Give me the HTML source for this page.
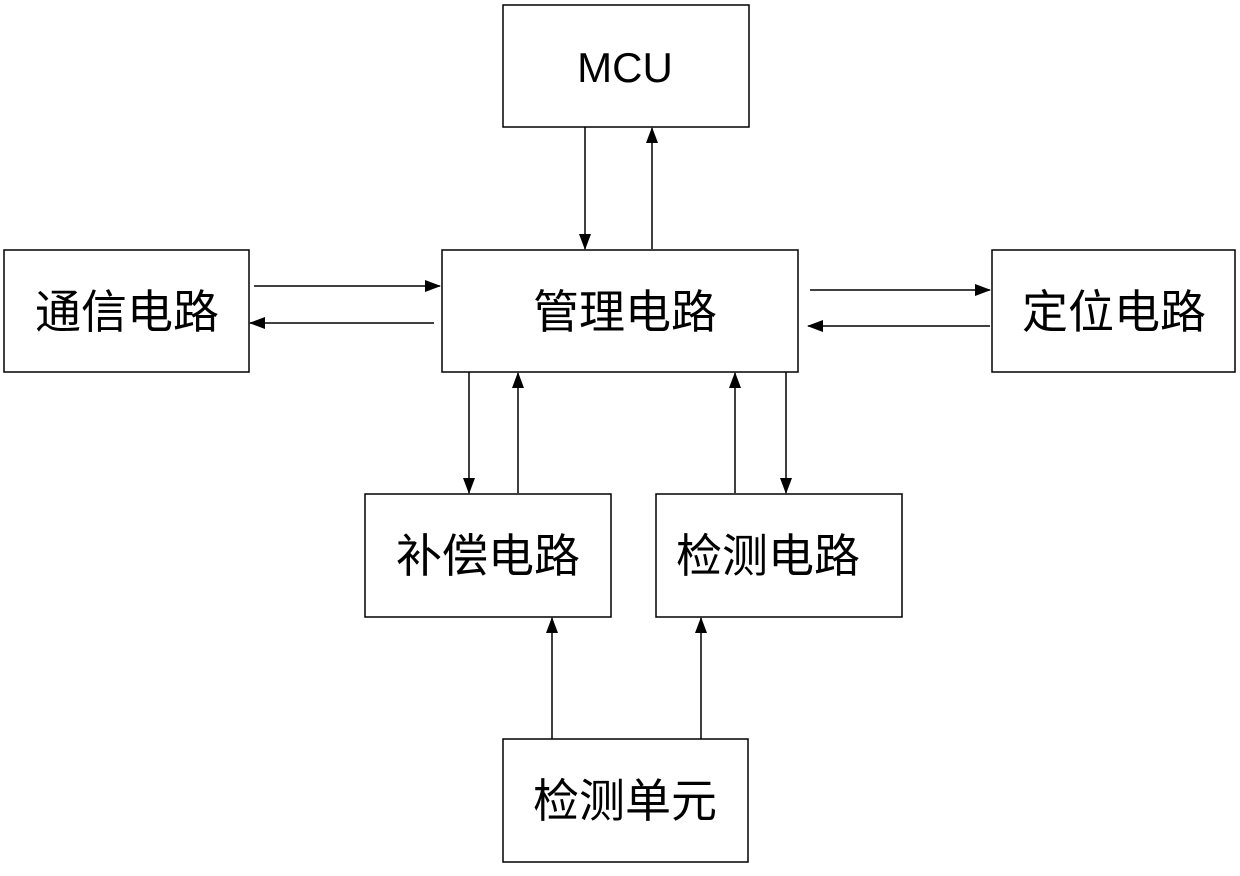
<!DOCTYPE html>
<html><head><meta charset="utf-8"><style>
body{margin:0;background:#fff;width:1240px;height:871px;overflow:hidden}
</style></head><body>
<svg width="1240" height="871" xmlns="http://www.w3.org/2000/svg">
<defs><marker id="a" markerWidth="10" markerHeight="10" refX="9" refY="5" orient="auto" markerUnits="userSpaceOnUse" viewBox="0 0 10 10"><path d="M0,0 L10,5 L0,10 z" fill="#000"/></marker>
<marker id="b" markerWidth="16" markerHeight="12" refX="15" refY="6" orient="auto" markerUnits="userSpaceOnUse" viewBox="0 0 16 12"><path d="M0,0 L16,6 L0,12 z" fill="#000"/></marker></defs>
<g fill="#fff" stroke="#000" stroke-width="1.5">
<rect x="503" y="5" width="246" height="122"/>
<rect x="4" y="250" width="245" height="122"/>
<rect x="442" y="250" width="356" height="122"/>
<rect x="992" y="250" width="243" height="122"/>
<rect x="365" y="494" width="246" height="123"/>
<rect x="656" y="494" width="246" height="123"/>
<rect x="503" y="739" width="245" height="123"/>
</g>
<g stroke="#000" stroke-width="1.5" fill="none" marker-end="url(#b)">
<line x1="585" y1="127" x2="585" y2="249"/>
<line x1="652" y1="249" x2="652" y2="128"/>
<line x1="254" y1="286" x2="440" y2="286"/>
<line x1="434" y1="323" x2="250" y2="323"/>
<line x1="810" y1="290" x2="990" y2="290"/>
<line x1="990" y1="326" x2="808" y2="326"/>
<line x1="469" y1="372" x2="469" y2="493"/>
<line x1="518" y1="493" x2="518" y2="373"/>
<line x1="735" y1="493" x2="735" y2="373"/>
<line x1="786" y1="372" x2="786" y2="493"/>
<line x1="552" y1="739" x2="552" y2="618"/>
<line x1="701" y1="739" x2="701" y2="618"/>
</g>
<g font-family="Liberation Sans, Noto Sans CJK SC, sans-serif" font-size="46" text-anchor="middle" fill="#000">
<text x="625" y="82" font-size="42">MCU</text>
<text x="127" y="328">通信电路</text>
<text x="625" y="328">管理电路</text>
<text x="1114" y="328">定位电路</text>
<text x="488" y="572">补偿电路</text>
<text x="768" y="572">检测电路</text>
<text x="625" y="817">检测单元</text>
</g>
</svg>
</body></html>
